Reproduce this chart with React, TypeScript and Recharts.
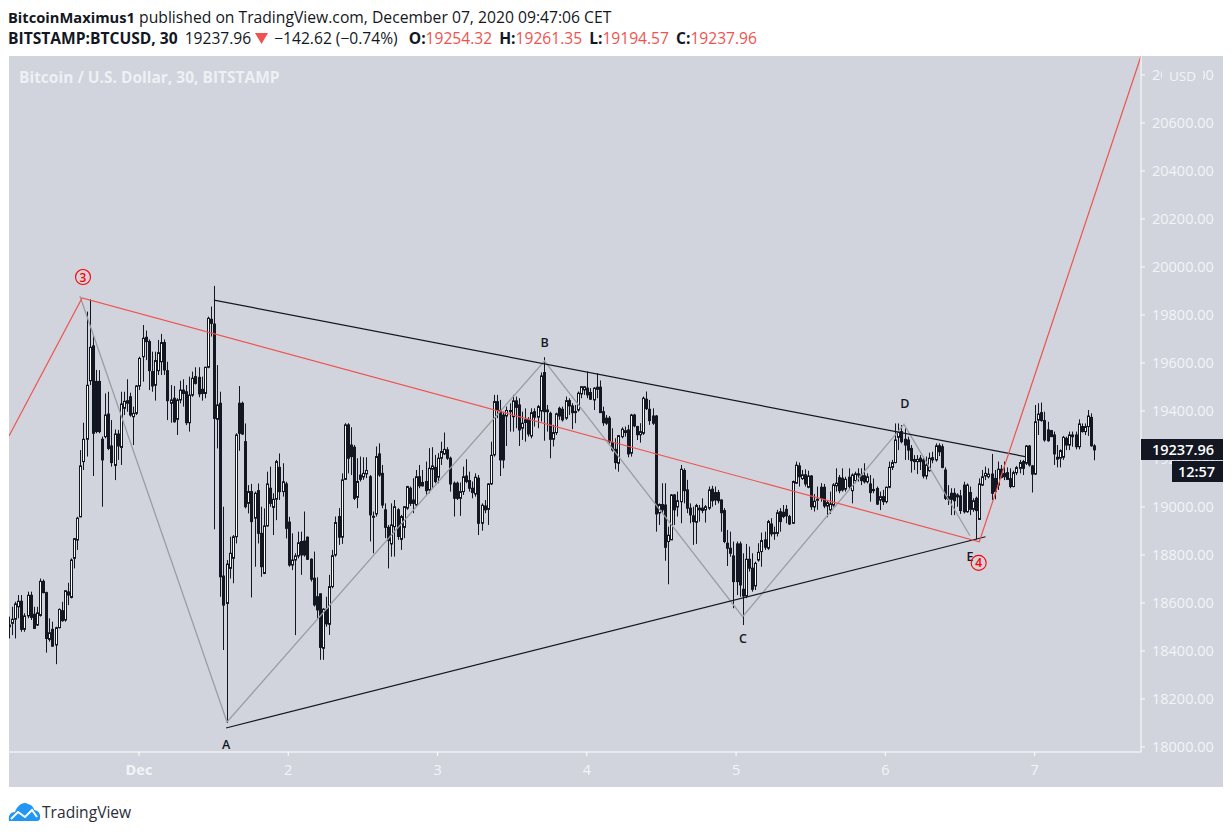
import { Bar, ComposedChart, Line, ReferenceDot, XAxis, YAxis } from "recharts";

// 30 minute candles, counted in candles from Dec 1 00:00, first one is -42
const firstCandle = -42;

const opens = [
  18501,18515,18532,18584,18607,18490,18546,18632,18553,18508,
  18548,18690,18643,18448,18490,18425,18497,18568,18529,18646,
  18623,18786,18862,18959,19189,19282,19526,19671,19523,19523,
  19282,19293,19387,19254,19173,19304,19248,19411,19432,19459,
  19376,19390,
  19504,19626,19707,19689,19564,19507,19568,19605,19685,19568,
  19432,19453,19365,19446,19487,19480,19351,19466,19543,19540,
  19490,19473,19582,19782,19762,19365,19432,18712,18598,18744,
  18786,18876,19432,19432,19272,19015,19064,18953,19068,18890,
  18723,18921,19078,18998,19032,19165,19064,19096,18937,18758,
  18779,18796,18856,18858,18874,18782,18703,18626,18638,18411,
  18574,18511,18668,18800,18960,18874,19115,19342,19258,19249,
  19040,19133,19125,19138,19126,18958,18971,19221,19140,18988,
  18915,18846,18918,18988,18865,18915,18995,19078,19029,19008,
  19126,19102,19106,19071,19157,19165,19124,19203,19221,19238,
  19203,19099,19099,19036,19064,19129,19110,19078,19054,19120,
  18932,19004,18990,19096,19217,19439,19402,19383,19379,19397,
  19376,19442,19425,19328,19363,19365,19296,19397,19374,19400,
  19560,19397,19390,19282,19310,19411,19407,19370,19443,19421,
  19393,19404,19471,19488,19495,19477,19446,19490,19499,19397,
  19370,19370,19268,19240,19182,19293,19310,19321,19224,19383,
  19335,19301,19307,19449,19407,19379,19379,18975,19010,19008,
  18856,18863,19050,19000,19022,19152,19071,18995,18963,18936,
  18995,18995,18988,18995,19074,19060,19060,19029,18985,18849,
  18828,18796,18846,18846,18657,18629,18782,18745,18671,18779,
  18814,18863,18828,18929,18893,18890,18980,18978,18990,18960,
  18932,19099,19171,19118,19134,19082,19129,19000,19028,19082,
  19082,19004,18988,19008,19088,19122,19120,19074,19124,19068,
  19110,19138,19133,19130,19105,19096,19068,19077,19029,19043,
  19022,19082,19165,19185,19290,19314,19282,19279,19244,19198,
  19189,19203,19196,19129,19151,19205,19196,19255,19251,19154,
  19032,19057,19057,19042,19046,19091,18980,19060,18990,19036,
  18948,19091,19129,19126,19137,19119,19091,19157,19140,19143,
  19118,19085,19143,19161,19189,19182,19254,19171,19137,19362,
  19393,19360,19321,19318,19300,19199,19203,19207,19286,19258,
  19293,19300,19251,19335,19314,19335,19373,19254.32,
];

const highs = [
  18543,18584,18605,18633,18633,18557,18647,18647,18584,18584,
  18702,18698,18647,18536,18522,18501,18577,18605,18654,18684,
  18786,18869,18959,19237,19351,19814,19865,19712,19571,19570,
  19293,19473,19480,19362,19323,19321,19480,19480,19532,19476,
  19418,19508,
  19626,19758,19735,19698,19647,19647,19696,19721,19698,19605,
  19508,19504,19453,19526,19532,19508,19543,19564,19582,19582,
  19543,19584,19793,19835,19921,19591,19480,19001,18779,18876,
  18883,19307,19504,19439,19348,19091,19096,19064,19098,19001,
  18994,19147,19168,19057,19196,19223,19182,19105,18959,18890,
  18807,18897,18897,18981,18877,18786,18814,18707,18640,18578,
  18626,18717,18821,18960,18995,19140,19349,19349,19332,19258,
  19203,19210,19207,19207,19133,18981,19252,19265,19175,19015,
  18925,19015,19029,18995,18967,19004,19088,19085,19120,19154,
  19175,19154,19189,19245,19249,19217,19224,19272,19310,19249,
  19210,19106,19106,19102,19168,19199,19147,19106,19140,19133,
  19015,19029,19099,19272,19467,19467,19446,19397,19418,19432,
  19467,19460,19453,19397,19411,19374,19411,19411,19425,19560,
  19624,19425,19397,19342,19393,19418,19418,19460,19453,19432,
  19425,19481,19504,19504,19564,19495,19499,19557,19527,19418,
  19383,19379,19328,19286,19300,19332,19335,19342,19388,19388,
  19338,19349,19460,19481,19446,19411,19383,19015,19099,19099,
  18918,19054,19054,19064,19175,19161,19113,19015,19001,19013,
  19008,19036,19008,19085,19088,19085,19071,19032,18995,18904,
  18897,18856,18856,18856,18807,18846,18835,18807,18772,18849,
  18893,18897,18946,18953,18918,18988,18995,19008,19008,18967,
  19110,19189,19185,19154,19157,19151,19133,19054,19085,19099,
  19096,19029,19064,19099,19161,19133,19161,19126,19161,19140,
  19147,19161,19161,19182,19140,19133,19119,19085,19064,19071,
  19085,19189,19196,19348,19348,19341,19327,19293,19258,19216,
  19216,19216,19210,19210,19226,19230,19265,19265,19262,19165,
  19091,19078,19078,19057,19071,19105,19098,19085,19036,19043,
  19119,19154,19168,19161,19221,19154,19189,19175,19189,19165,
  19161,19151,19171,19196,19196,19258,19258,19175,19425,19432,
  19435,19397,19355,19321,19314,19258,19240,19296,19293,19314,
  19314,19314,19365,19348,19348,19404,19390,19261.35,
];

const lows = [
  18452,18466,18452,18536,18480,18480,18536,18529,18494,18504,
  18543,18640,18393,18439,18418,18345,18494,18522,18522,18591,
  18619,18744,18821,18957,19154,19210,19508,19129,19307,19307,
  19001,19286,19237,19168,19112,19196,19175,19383,19397,19376,
  19258,19383,
  19487,19522,19612,19487,19480,19443,19550,19550,19550,19362,
  19351,19351,19300,19432,19418,19341,19314,19459,19510,19457,
  19443,19453,19578,19710,18907,19244,18626,18404,18100,18702,
  18682,18848,19234,19300,18994,18973,18623,18751,18848,18709,
  18720,18918,19001,18883,18945,19029,19043,18869,18751,18737,
  18466,18786,18717,18793,18779,18689,18585,18536,18363,18363,
  18501,18467,18661,18793,18842,18846,19113,19140,19133,19029,
  18995,19106,19113,19120,18856,18807,18960,19126,18995,18870,
  18744,18793,18793,18863,18821,18870,18988,19004,18974,19004,
  19078,19085,19050,19057,19078,19099,19099,19175,19217,19196,
  19064,18960,19029,18963,19050,19099,19064,19036,19043,18883,
  18901,18974,18925,19092,19210,19370,19129,19161,19254,19314,
  19314,19328,19254,19279,19272,19293,19286,19335,19328,19356,
  19276,19314,19203,19252,19300,19363,19356,19363,19383,19324,
  19349,19397,19453,19467,19453,19446,19404,19453,19393,19338,
  19342,19265,19231,19157,19147,19286,19293,19207,19210,19332,
  19279,19268,19300,19404,19342,19342,18897,18925,18974,18776,
  18678,18863,18925,18960,18932,19015,18974,18932,18842,18846,
  18939,18974,18935,18988,19001,19008,19015,18897,18849,18754,
  18793,18578,18633,18626,18508,18620,18731,18647,18654,18772,
  18751,18821,18821,18877,18863,18877,18897,18953,18932,18925,
  18929,19096,19085,19113,19085,19078,18988,18981,18988,19022,
  18995,18957,18971,19001,19064,19057,19064,19064,19071,19015,
  19099,19106,19091,19098,19098,19022,19057,19008,18987,19008,
  19015,19078,19154,19182,19237,19265,19196,19196,19143,19154,
  19137,19154,19119,19115,19147,19182,19189,19212,19161,19029,
  19008,18966,18966,19001,18971,18973,18976,18966,18980,18865,
  18946,19087,19112,19119,19029,19032,19071,19119,19112,19115,
  19078,19082,19133,19140,19133,19175,19168,19060,19133,19300,
  19355,19272,19272,19293,19175,19165,19165,19196,19237,19237,
  19251,19240,19240,19310,19300,19296,19251,19194.57,
];

const closes = [
  18508,18532,18596,18607,18490,18546,18632,18540,18494,18559,
  18690,18643,18452,18476,18420,18497,18573,18526,18651,18633,
  18779,18868,18953,19171,19282,19507,19665,19307,19314,19314,
  19196,19383,19244,19185,19304,19254,19429,19440,19443,19383,
  19390,19504,
  19619,19703,19689,19568,19504,19610,19643,19685,19571,19443,
  19446,19355,19446,19487,19473,19351,19466,19536,19515,19471,
  19473,19582,19786,19765,19369,19425,18709,18591,18762,18807,
  18876,19300,19307,19304,19001,19064,18939,19057,18890,18751,
  18921,19096,19015,19032,19189,19064,19105,18911,18758,18779,
  18796,18851,18800,18800,18782,18699,18592,18571,18415,18574,
  18513,18668,18797,18935,18874,19113,19342,19203,19210,19036,
  19106,19115,19140,19152,18967,18961,19210,19133,19008,18915,
  18860,18925,19001,18877,18960,19001,19085,19015,19015,19126,
  19088,19088,19068,19161,19171,19106,19203,19231,19240,19203,
  19096,19036,19036,19064,19126,19106,19078,19060,19124,18932,
  19007,18988,19096,19215,19439,19402,19196,19196,19402,19402,
  19442,19415,19321,19349,19352,19304,19393,19374,19418,19546,
  19397,19404,19282,19310,19388,19379,19363,19443,19421,19393,
  19398,19474,19501,19501,19467,19449,19495,19499,19393,19351,
  19349,19272,19238,19185,19297,19324,19318,19221,19383,19338,
  19301,19314,19453,19410,19360,19349,18971,19010,18988,18832,
  18882,19050,18988,19026,19157,19068,18995,18967,18939,19006,
  18988,18985,19001,19071,19026,19029,19026,18976,18856,18828,
  18807,18689,18689,18675,18629,18782,18745,18657,18765,18811,
  18860,18832,18939,18888,18890,18976,18939,18960,18963,18929,
  19106,19174,19126,19134,19096,19129,19001,19024,19032,19036,
  19004,19018,19013,19092,19099,19068,19071,19115,19085,19133,
  19138,19133,19110,19105,19126,19060,19073,19012,19043,19022,
  19082,19165,19185,19279,19311,19272,19258,19237,19193,19189,
  19198,19189,19129,19175,19203,19196,19255,19230,19165,19036,
  19043,19032,19026,19050,18985,18980,19091,18990,19026,18985,
  19096,19126,19140,19137,19057,19064,19157,19123,19126,19115,
  19085,19143,19164,19185,19161,19254,19175,19137,19355,19387,
  19360,19279,19276,19293,19221,19207,19235,19290,19258,19300,
  19300,19251,19346,19314,19335,19379,19255,19237.96,
];

const priceTicks = [
  18000, 18200, 18400, 18600, 18800, 19000, 19200, 19400, 19600, 19800, 20000, 20200, 20400, 20600, 20800,
];
const dayTicks = [0, 48, 96, 144, 192, 240, 288];
const dayLabels = ["Dec", "2", "3", "4", "5", "6", "7"];

const waveLine = [
  { t: -41.8, p: 19296 },
  { t: -18.3, p: 19871 },
  { t: 270.2, p: 18855 },
  { t: 322.2, p: 20879 },
];
const upperLine = [
  { t: 24.1, p: 19862 },
  { t: 284.9, p: 19210 },
];
const lowerLine = [
  { t: 28, p: 18079 },
  { t: 272.2, p: 18876 },
];
const zigzagLine = [
  { t: -19, p: 19879 },
  { t: 28.3, p: 18104 },
  { t: 130.4, p: 19608 },
  { t: 194.1, p: 18543 },
  { t: 246, p: 19344 },
  { t: 267.2, p: 18880 },
];
const waveLabels = [
  { t: 28, p: 18012, text: "A" },
  { t: 130.4, p: 19687, text: "B" },
  { t: 194.2, p: 18450, text: "C" },
  { t: 246.3, p: 19433, text: "D" },
  { t: 267.2, p: 18792, text: "E" },
];
const circledLabels = [
  { t: -18, p: 19958, text: "3" },
  { t: 270, p: 18767, text: "4" },
];

const candles = opens.map((o, i) => ({
  t: firstCandle + i,
  o,
  c: closes[i],
  range: [lows[i], highs[i]],
}));

const DARK = "#131722";
const RED = "#ef5350";
const PANEL = "#d1d4dc";
const PALE = "#f3f4f8";
const FONT = "'Open Sans', sans-serif";

function Candle(props: any) {
  const { x, y, width, height, payload } = props;
  const [low, high] = payload.range;
  const perUnit = height / (high - low);
  const top = y + (high - Math.max(payload.o, payload.c)) * perUnit;
  const bottom = y + (high - Math.min(payload.o, payload.c)) * perUnit;
  const left = Math.round(x + width / 2 + 0.5) - 1;
  const up = payload.c >= payload.o;
  return (
    <g>
      <line x1={left + 1.5} x2={left + 1.5} y1={y} y2={y + height} stroke={DARK} strokeWidth={1} />
      <rect
        x={left + 0.5}
        y={top}
        width={2}
        height={Math.max(bottom - top, 1)}
        fill={up ? "#ffffff" : DARK}
        stroke={DARK}
        strokeWidth={1}
      />
    </g>
  );
}

function DayTick({ x, y, payload }: any) {
  const label = dayLabels[dayTicks.indexOf(payload.value)];
  return (
    <text
      x={x}
      y={y + 17}
      textAnchor="middle"
      fill={PALE}
      fontFamily={FONT}
      fontSize={14.5}
      fontWeight={label === "Dec" ? 700 : 400}
    >
      {label}
    </text>
  );
}

function WaveLetter({ cx, cy, text }: any) {
  return (
    <text x={cx} y={cy + 4.5} textAnchor="middle" fill={DARK} fontFamily={FONT} fontSize={12.5} fontWeight={600}>
      {text}
    </text>
  );
}

function WaveCircle({ cx, cy, text }: any) {
  return (
    <g>
      <circle cx={cx} cy={cy} r={7.5} fill="none" stroke="#ff0000" strokeWidth={1.1} />
      <text x={cx} y={cy + 4.5} textAnchor="middle" fill="#ff0000" fontFamily={FONT} fontSize={12} fontWeight={600}>
        {text}
      </text>
    </g>
  );
}

const red = { color: RED };
const label = { fontWeight: 700, marginLeft: 3 };

export default function App() {
  return (
    <div style={{ position: "absolute", left: 0, top: 0, width: 1232, height: 835, fontFamily: FONT, color: DARK }}>
      <div style={{ position: "absolute", left: 8, top: 6, fontSize: 15.7, whiteSpace: "nowrap" }}>
        <b style={{ fontSize: 14.7 }}>BitcoinMaximus1</b> published on TradingView.com, December 07, 2020 09:47:06 CET
      </div>
      <div style={{ position: "absolute", left: 8, top: 27, fontSize: 15.6, whiteSpace: "nowrap" }}>
        <b>BITSTAMP:BTCUSD, 30</b>
        <span style={{ marginLeft: 7 }}>19237.96</span>
        <svg width={13} height={11} viewBox="0 0 13 11" style={{ marginLeft: 4, marginRight: 6 }}>
          <polygon points="0,0 13,0 6.5,11" fill={RED} />
        </svg>
        −142.62 (−0.74%) <span style={{ ...label, marginLeft: 7 }}>O:</span>
        <span style={red}>19254.32</span> <span style={label}>H:</span>
        <span style={red}>19261.35</span> <span style={label}>L:</span>
        <span style={red}>19194.57</span> <span style={label}>C:</span>
        <span style={red}>19237.96</span>
      </div>

      <div style={{ position: "absolute", left: 9, top: 56, width: 1214, height: 731, background: PANEL }}>
        <ComposedChart width={1214} height={731} data={candles} margin={{ top: 0, right: 0, bottom: 0, left: 0 }}>
          <XAxis
            dataKey="t"
            type="number"
            domain={[-41.8, 322.2]}
            allowDataOverflow
            ticks={dayTicks}
            interval={0}
            height={35}
            stroke="#ffffff"
            tickSize={4}
            tick={<DayTick />}
          />
          <YAxis
            orientation="right"
            type="number"
            domain={[17979, 20879]}
            allowDataOverflow
            ticks={priceTicks}
            interval={0}
            width={82}
            stroke="#ffffff"
            tickSize={4}
            tickMargin={7}
            tick={{ fill: PALE, fontSize: 14.5, fontFamily: FONT }}
            tickFormatter={(v: number) => v.toFixed(2)}
          />
          <Bar dataKey="range" barSize={3} shape={<Candle />} isAnimationActive={false} />
          <Line data={zigzagLine} dataKey="p" stroke="#9b9da3" strokeWidth={1.3} dot={false} isAnimationActive={false} />
          <Line data={upperLine} dataKey="p" stroke={DARK} strokeWidth={1.2} dot={false} isAnimationActive={false} />
          <Line data={lowerLine} dataKey="p" stroke={DARK} strokeWidth={1.2} dot={false} isAnimationActive={false} />
          <Line data={waveLine} dataKey="p" stroke={RED} strokeWidth={1.2} dot={false} isAnimationActive={false} />
          {waveLabels.map((d) => (
            <ReferenceDot key={d.text} x={d.t} y={d.p} shape={<WaveLetter text={d.text} />} />
          ))}
          {circledLabels.map((d) => (
            <ReferenceDot key={d.text} x={d.t} y={d.p} shape={<WaveCircle text={d.text} />} />
          ))}
        </ComposedChart>
      </div>

      <div style={{ position: "absolute", left: 19, top: 66, fontSize: 15.5, fontWeight: 700, color: "#eef0f5", whiteSpace: "nowrap" }}>
        Bitcoin / U.S. Dollar, 30, BITSTAMP
      </div>
      <div style={{ position: "absolute", left: 1162, top: 65, width: 41, height: 22, lineHeight: "22px", background: PANEL, color: PALE, fontSize: 13.5, textAlign: "center" }}>
        USD
      </div>
      <div style={{ position: "absolute", left: 1141, top: 439, width: 82, height: 21, lineHeight: "21px", background: DARK, color: "#ffffff", fontSize: 14.5, fontWeight: 600, textAlign: "right" }}>
        <span style={{ marginRight: 9 }}>19237.96</span>
      </div>
      <div style={{ position: "absolute", left: 1172, top: 461, width: 51, height: 21, lineHeight: "21px", background: DARK, color: "#ffffff", fontSize: 14.5, fontWeight: 600 }}>
        <span style={{ marginLeft: 6 }}>12:57</span>
      </div>

      <svg style={{ position: "absolute", left: 8, top: 801 }} width={33} height={21} viewBox="0 0 33 21">
        <path
          d="M1 20 C0 14 3 11 7 11 C9 5 15 0 20 3 C24 4 26 7 26 9 C30 9 33 13 32 17 C32 19 31 20 29 20 Z"
          fill="#2196f3"
        />
        <polyline points="3,18 10,11 17,16 24,9 29,16" fill="none" stroke="#ffffff" strokeWidth={2} />
      </svg>
      <div style={{ position: "absolute", left: 42, top: 801, fontSize: 15.6, color: "#2a2e39", whiteSpace: "nowrap" }}>
        TradingView
      </div>
    </div>
  );
}
